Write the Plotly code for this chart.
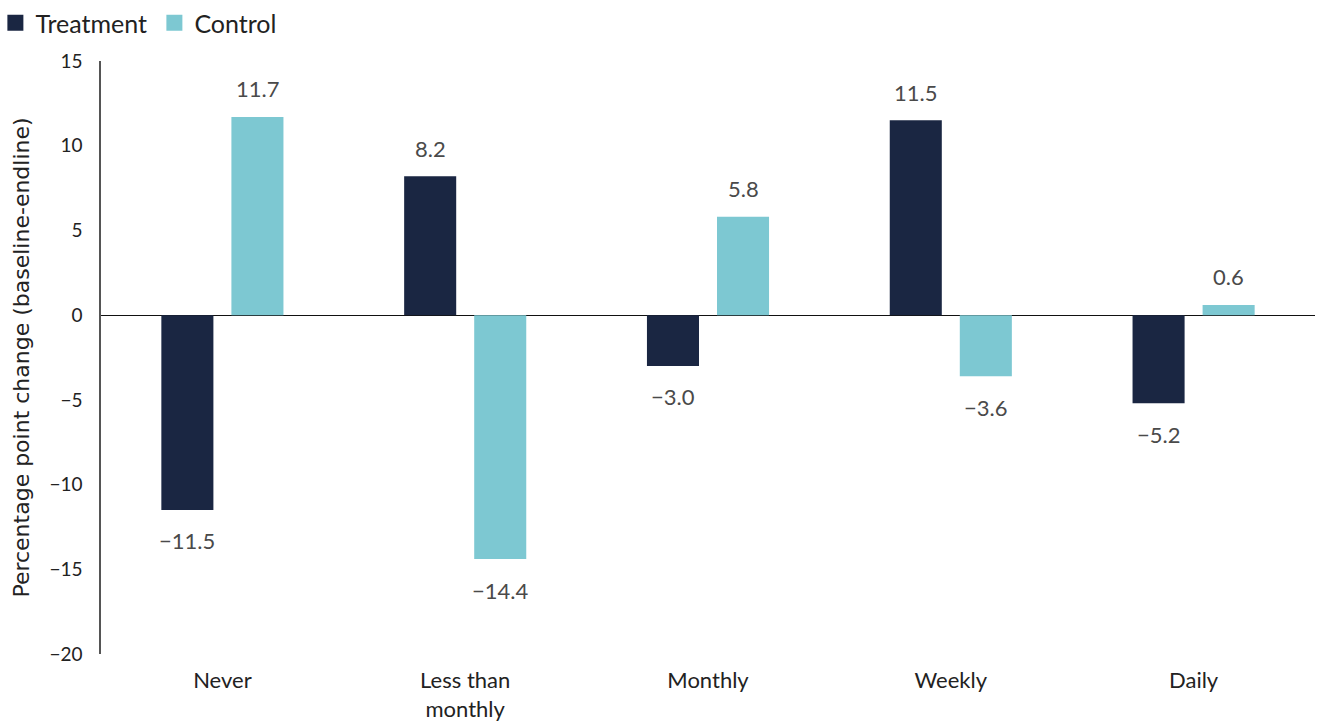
import plotly.graph_objects as go

categories = ["Never", "Less than<br>monthly", "Monthly", "Weekly", "Daily"]
treatment = [-11.5, 8.2, -3.0, 11.5, -5.2]
control = [11.7, -14.4, 5.8, -3.6, 0.6]
y_ticks = [15, 10, 5, 0, -5, -10, -15, -20]

TREAT_COLOR = "#1a2642"
CTRL_COLOR = "#7dc8d2"
FONT = "Lato, Noto Sans, sans-serif"
TITLE_FONT = "DejaVu Sans, sans-serif"


def fmt(v):
    return f"{v:.1f}".replace("-", "\u2212")


def fmt_tick(v):
    return str(v).replace("-", "\u2212")


fig = go.Figure()
fig.add_trace(go.Bar(x=categories, y=treatment, name="Treatment", showlegend=False,
                     marker=dict(color=TREAT_COLOR, line=dict(width=0))))
fig.add_trace(go.Bar(x=categories, y=control, name="Control", showlegend=False,
                     marker=dict(color=CTRL_COLOR, line=dict(width=0))))
# legend-only entries with larger square swatches
for name, col in (("Treatment", TREAT_COLOR), ("Control", CTRL_COLOR)):
    fig.add_trace(go.Scatter(x=[None], y=[None], mode="markers", name=name,
                             marker=dict(symbol="square", size=17, color=col)))

annotations = []
for series, shift in ((treatment, -35), (control, 35)):
    for c, v in zip(categories, series):
        annotations.append(dict(
            x=c, y=v, xref="x", yref="y", text=fmt(v), showarrow=False,
            xshift=shift, yshift=28 if v >= 0 else -31, yanchor="middle",
            font=dict(family=FONT, size=22, color="#4a4a4a")))

fig.update_layout(
    width=1317, height=722,
    margin=dict(l=101, r=2, t=61, b=68, autoexpand=False),
    paper_bgcolor="white", plot_bgcolor="white",
    barmode="group", bargap=0.423, bargroupgap=0.257,
    font=dict(family=FONT, color="#222222"),
    showlegend=True,
    legend=dict(orientation="h", x=-0.087, xref="paper", y=1.0, yref="container",
                xanchor="left", yanchor="top", font=dict(family=FONT, size=25, color="#222222"),
                itemwidth=30, entrywidth=114, traceorder="normal",
                bgcolor="rgba(0,0,0,0)"),
    annotations=annotations,
)
fig.update_xaxes(showline=False, showgrid=False, zeroline=False, ticks="", automargin=False,
                 tickfont=dict(family=FONT, size=22, color="#222222"),
                 ticklabelstandoff=11)
fig.update_yaxes(range=[-20, 15], tickvals=y_ticks, ticktext=[fmt_tick(t) for t in y_ticks],
                 showgrid=False, showline=True, linecolor="#555555", linewidth=1.5,
                 zeroline=True, zerolinecolor="#111111", zerolinewidth=1.2,
                 ticks="", ticklabelstandoff=13, automargin=False,
                 tickfont=dict(family=FONT, size=19, color="#222222"),
                 title=dict(text="Percentage point change (baseline-endline)", standoff=14,
                            font=dict(family=TITLE_FONT, size=22, color="#222222")))

fig.write_html("out.html", config={"displayModeBar": False},
               post_script="document.body.style.margin='0';document.body.style.overflow='hidden';")
